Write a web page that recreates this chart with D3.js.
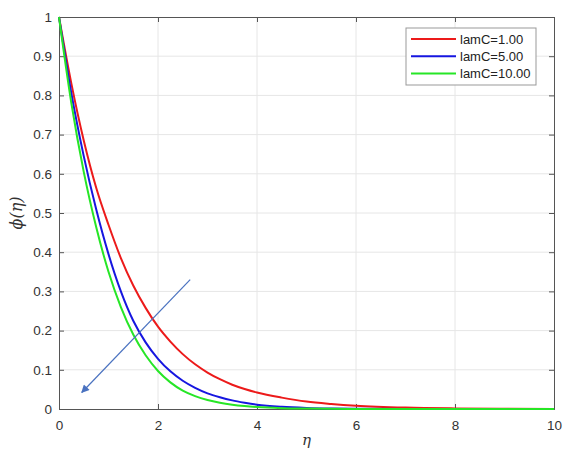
<!DOCTYPE html>
<html>
<head>
<meta charset="utf-8">
<script src="https://cdn.jsdelivr.net/npm/d3@7"></script>
<style>
  body { margin: 0; background: #fff; }
  text { font-family: Arial, "Liberation Sans", sans-serif; }
</style>
</head>
<body>
<div id="chart"></div>
<script>
const width = 564;
const height = 454;
const margin = { top: 17, right: 10, bottom: 45, left: 59 };

// eta grid and phi values
const eta = [0, 0.25, 0.5, 0.75, 1, 1.25, 1.5, 1.75, 2, 2.25, 2.5, 2.75, 3, 3.25, 3.5, 3.75, 4, 4.5, 5, 5.5, 6, 7, 8, 9, 10];
const phiLam1 = [1, 0.83, 0.685, 0.565, 0.47, 0.385, 0.315, 0.258, 0.21, 0.172, 0.14, 0.114, 0.093, 0.076, 0.062, 0.051, 0.042, 0.029, 0.019, 0.013, 0.0085, 0.0036, 0.0015, 0.0006, 0.0002];
const phiLam5 = [1, 0.805, 0.645, 0.51, 0.395, 0.3, 0.225, 0.17, 0.128, 0.096, 0.072, 0.054, 0.04, 0.03, 0.022, 0.016, 0.011, 0.0055, 0.0027, 0.0013, 0.0006, 0.0001, 0, 0, 0];
const phiLam10 = [1, 0.78, 0.605, 0.465, 0.35, 0.26, 0.19, 0.137, 0.097, 0.068, 0.047, 0.033, 0.023, 0.016, 0.011, 0.0075, 0.005, 0.0022, 0.001, 0.0004, 0.0002, 0, 0, 0, 0];

const seriesNames = ["lamC=1.00", "lamC=5.00", "lamC=10.00"];
const seriesColors = ["#ec1a1a", "#1616e0", "#26e626"];
const seriesValues = [phiLam1, phiLam5, phiLam10];

const xTicks = [0, 2, 4, 6, 8, 10];
const yTicks = [0, 0.1, 0.2, 0.3, 0.4, 0.5, 0.6, 0.7, 0.8, 0.9, 1];

// arrow from (2.65, 0.33) down to (0.46, 0.042)
const arrowFrom = [2.65, 0.33];
const arrowTo = [0.46, 0.042];

const axisColor = "#555";
const gridColor = "#e6e6e6";

const x = d3.scaleLinear().domain([0, 10]).range([margin.left, width - margin.right]);
const y = d3.scaleLinear().domain([0, 1]).range([height - margin.bottom, margin.top]);

const svg = d3.select("#chart").append("svg")
  .attr("width", width)
  .attr("height", height);

svg.append("defs").append("marker")
  .attr("id", "head")
  .attr("viewBox", "0 0 10 10")
  .attr("refX", 9)
  .attr("refY", 5)
  .attr("markerWidth", 10)
  .attr("markerHeight", 8)
  .attr("markerUnits", "userSpaceOnUse")
  .attr("orient", "auto")
  .append("path")
  .attr("d", "M0,0 L10,5 L0,10 z")
  .attr("fill", "#4a72c0");

// grid
svg.append("g")
  .selectAll("line")
  .data(xTicks.slice(1, -1))
  .join("line")
  .attr("x1", d => x(d)).attr("x2", d => x(d))
  .attr("y1", y(0)).attr("y2", y(1))
  .attr("stroke", gridColor);

svg.append("g")
  .selectAll("line")
  .data(yTicks.slice(1, -1))
  .join("line")
  .attr("x1", x(0)).attr("x2", x(10))
  .attr("y1", d => y(d)).attr("y2", d => y(d))
  .attr("stroke", gridColor);

// axes, ticks pointing inward like matlab
const fmtY = d => (d === 0 || d === 1) ? String(d) : d.toFixed(1);

const xAxis = svg.append("g")
  .attr("transform", `translate(0,${y(0)})`)
  .call(d3.axisBottom(x).tickValues(xTicks).tickSize(-5).tickPadding(11));
const yAxis = svg.append("g")
  .attr("transform", `translate(${x(0)},0)`)
  .call(d3.axisLeft(y).tickValues(yTicks).tickFormat(fmtY).tickSize(-5).tickPadding(7));
const xTop = svg.append("g")
  .attr("transform", `translate(0,${y(1)})`)
  .call(d3.axisTop(x).tickValues(xTicks).tickSize(-5).tickFormat(""));
const yRight = svg.append("g")
  .attr("transform", `translate(${x(10)},0)`)
  .call(d3.axisRight(y).tickValues(yTicks).tickSize(-5).tickFormat(""));

[xAxis, yAxis, xTop, yRight].forEach(a => {
  a.select(".domain").attr("stroke", axisColor);
  a.selectAll(".tick line").attr("stroke", axisColor);
  a.selectAll(".tick text")
    .attr("fill", "#333")
    .style("font-size", "13.5px")
    .style("font-family", "Arial, 'Liberation Sans', sans-serif");
});

// curves
const line = d3.line()
  .x((d, i) => x(eta[i]))
  .y(d => y(d))
  .curve(d3.curveMonotoneX);

svg.append("g")
  .selectAll("path")
  .data(seriesValues)
  .join("path")
  .attr("d", d => line(d))
  .attr("fill", "none")
  .attr("stroke", (d, i) => seriesColors[i])
  .attr("stroke-width", 2);

// arrow
svg.append("line")
  .attr("x1", x(arrowFrom[0])).attr("y1", y(arrowFrom[1]))
  .attr("x2", x(arrowTo[0])).attr("y2", y(arrowTo[1]))
  .attr("stroke", "#4a72c0")
  .attr("stroke-width", 1.2)
  .attr("marker-end", "url(#head)");

// legend
const legend = svg.append("g").attr("transform", "translate(406,28)");
legend.append("rect")
  .attr("width", 130).attr("height", 57)
  .attr("fill", "#fff")
  .attr("stroke", "#999");

const rows = legend.selectAll("g.row")
  .data(seriesNames)
  .join("g")
  .attr("class", "row")
  .attr("transform", (d, i) => `translate(0,${11 + i * 17.3})`);

rows.append("line")
  .attr("x1", 5).attr("x2", 50)
  .attr("stroke", (d, i) => seriesColors[i])
  .attr("stroke-width", 2);

rows.append("text")
  .attr("x", 54)
  .attr("dy", "0.35em")
  .attr("fill", "#222")
  .style("font-size", "13px")
  .text(d => d);

// axis labels
svg.append("text")
  .attr("x", x(5))
  .attr("y", 445)
  .attr("text-anchor", "middle")
  .style("font-family", "'DejaVu Serif', serif")
  .style("font-style", "italic")
  .style("font-size", "15px")
  .attr("fill", "#333")
  .text("η");

svg.append("text")
  .attr("transform", `translate(22,${y(0.5)}) rotate(-90)`)
  .attr("text-anchor", "middle")
  .style("font-family", "'DejaVu Serif', serif")
  .style("font-style", "italic")
  .style("font-size", "16px")
  .attr("fill", "#333")
  .text("ϕ(η)");
</script>
</body>
</html>
